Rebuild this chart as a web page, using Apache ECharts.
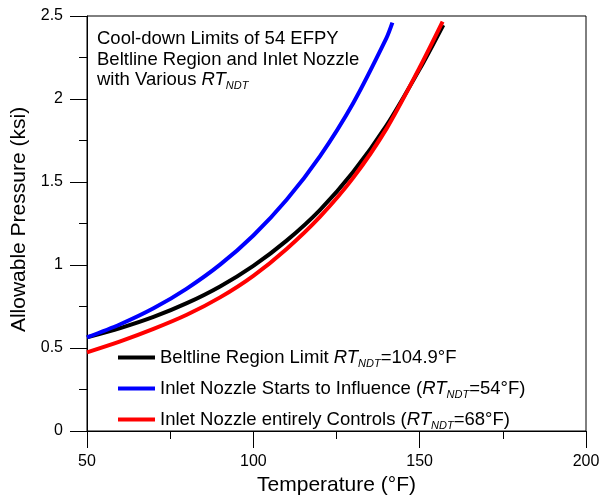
<!DOCTYPE html>
<html>
<head>
<meta charset="utf-8">
<script src="https://cdn.jsdelivr.net/npm/echarts@6/dist/echarts.min.js"></script>
<style>
html, body { margin: 0; padding: 0; background: #fff; }
#source { width: 613px; height: 502px; }
</style>
</head>
<body>
<div id="source"></div>
<script>
// temperatures (F) and allowable pressure (ksi)
var beltlineT = [50, 60, 70, 80, 90, 100, 110, 120, 130, 140, 150, 157.1];
var beltlineP = [0.564, 0.62, 0.687, 0.77, 0.871, 0.995, 1.147, 1.331, 1.56, 1.84, 2.18, 2.446];

var startsT = [50, 60, 70, 80, 90, 100, 110, 120, 130, 140, 141.8];
var startsP = [0.564, 0.643, 0.739, 0.858, 1.002, 1.178, 1.393, 1.655, 1.975, 2.367, 2.46];

var controlsT = [50, 60, 70, 80, 90, 100, 110, 120, 130, 140, 150, 156.9];
var controlsP = [0.474, 0.54, 0.615, 0.70, 0.805, 0.935, 1.097, 1.29, 1.525, 1.82, 2.19, 2.466];

var xTicks = [50, 100, 150, 200];
var yTicks = [0, 0.5, 1, 1.5, 2, 2.5];

var seriesNames = [
  'Beltline Region Limit RTNDT=104.9°F',
  'Inlet Nozzle Starts to Influence (RTNDT=54°F)',
  'Inlet Nozzle entirely Controls (RTNDT=68°F)'
];
var legendText = [
  'Beltline Region Limit {it|RT}{sub|NDT}=104.9°F',
  'Inlet Nozzle Starts to Influence ({it|RT}{sub|NDT}=54°F)',
  'Inlet Nozzle entirely Controls ({it|RT}{sub|NDT}=68°F)'
];

function pairs(xs, ys) {
  return xs.map(function (x, i) { return [x, ys[i]]; });
}

var font = 'Liberation Sans';
var rtRich = {
  it: { fontStyle: 'italic', fontSize: 18.5, fontFamily: font, color: '#000', lineHeight: 22 },
  sub: { fontStyle: 'italic', fontSize: 11, fontFamily: font, color: '#000', lineHeight: 22, padding: [12, 0, 0, 0] }
};

var dom = document.getElementById('source');
var myChart = echarts.init(dom, null, { renderer: 'canvas' });

var option = {
  animation: false,
  textStyle: { fontFamily: font },
  title: {
    text: 'Cool-down Limits of 54 EFPY\nBeltline Region and Inlet Nozzle\nwith Various {it|RT}{sub|NDT}',
    left: 92,
    top: 24,
    textStyle: {
      fontFamily: font,
      fontSize: 18.5,
      fontWeight: 'normal',
      color: '#000',
      lineHeight: 20.5,
      rich: {
        it: { fontStyle: 'italic', fontSize: 18.5, fontFamily: font, color: '#000', lineHeight: 20.5 },
        sub: { fontStyle: 'italic', fontSize: 11, fontFamily: font, color: '#000', lineHeight: 20.5, padding: [12, 0, 0, 0] }
      }
    }
  },
  legend: {
    orient: 'vertical',
    left: 113,
    top: 341,
    icon: 'rect',
    itemWidth: 37,
    itemHeight: 4,
    itemGap: 8,
    data: seriesNames,
    formatter: function (name) {
      return legendText[seriesNames.indexOf(name)];
    },
    textStyle: {
      fontFamily: font,
      fontSize: 18.5,
      color: '#000',
      lineHeight: 22,
      rich: rtRich
    }
  },
  grid: {
    left: 87,
    top: 16,
    right: 27,
    bottom: 71,
    show: true,
    borderColor: '#000',
    borderWidth: 1
  },
  xAxis: {
    type: 'value',
    min: 50,
    max: 200,
    interval: 50,
    name: 'Temperature (°F)',
    nameLocation: 'middle',
    nameGap: 35,
    nameTextStyle: { fontSize: 21, color: '#000', fontFamily: font },
    axisLine: { lineStyle: { color: '#000', width: 1 } },
    axisTick: { show: true, inside: false, length: 17, lineStyle: { color: '#000', width: 1 } },
    minorTick: { show: true, splitNumber: 2, length: 8, lineStyle: { color: '#000', width: 1 } },
    splitLine: { show: false },
    axisLabel: {
      fontSize: 16, color: '#000', margin: 23,
      formatter: function (v) { return xTicks.indexOf(v) >= 0 ? String(v) : ''; }
    }
  },
  yAxis: {
    type: 'value',
    min: 0,
    max: 2.5,
    interval: 0.5,
    name: 'Allowable Pressure (ksi)',
    nameLocation: 'middle',
    nameGap: 41,
    nameTextStyle: { fontSize: 21, color: '#000', fontFamily: font, padding: [0, 0, 0, 8] },
    axisLine: { show: true, lineStyle: { color: '#000', width: 1 } },
    axisTick: { show: true, inside: false, length: 17, lineStyle: { color: '#000', width: 1 } },
    minorTick: { show: true, splitNumber: 2, length: 8, lineStyle: { color: '#000', width: 1 } },
    splitLine: { show: false },
    axisLabel: {
      fontSize: 16, color: '#000', margin: 24,
      formatter: function (v) { return yTicks.indexOf(v) >= 0 ? String(v) : ''; }
    }
  },
  series: [
    {
      name: seriesNames[0],
      type: 'line',
      data: pairs(beltlineT, beltlineP),
      smooth: 0.3,
      showSymbol: false,
      color: '#000000',
      lineStyle: { width: 4, color: '#000000' }
    },
    {
      name: seriesNames[1],
      type: 'line',
      data: pairs(startsT, startsP),
      smooth: 0.3,
      showSymbol: false,
      color: '#0000ff',
      lineStyle: { width: 4, color: '#0000ff' }
    },
    {
      name: seriesNames[2],
      type: 'line',
      data: pairs(controlsT, controlsP),
      smooth: 0.3,
      showSymbol: false,
      color: '#ff0000',
      lineStyle: { width: 4, color: '#ff0000' }
    }
  ]
};

if (option && typeof option === 'object') {
  myChart.setOption(option);
}

window.addEventListener('resize', myChart.resize);
</script>
</body>
</html>
